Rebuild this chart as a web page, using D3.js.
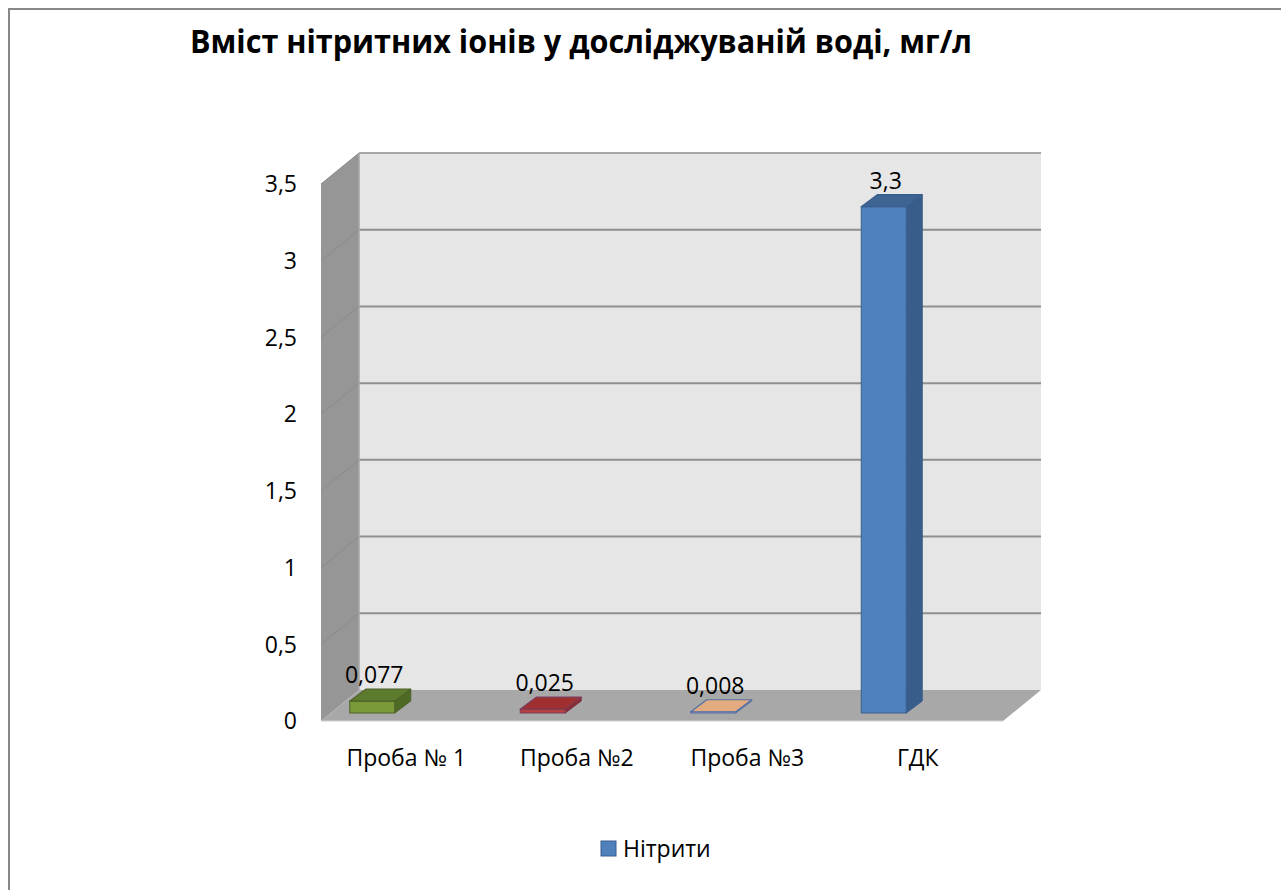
<!DOCTYPE html>
<html>
<head>
<meta charset="utf-8">
<script src="https://cdn.jsdelivr.net/npm/d3@7"></script>
<style>
  html, body { margin: 0; padding: 0; background: #fff; }
  svg { display: block; }
  text { font-family: "Open Sans", "Noto Sans", sans-serif; fill: #000; }
</style>
</head>
<body>
<svg id="chart" width="1281" height="890"></svg>
<script>
// Nitrite content per sample, mg/l
const categories = ["Проба № 1", "Проба №2", "Проба №3", "ГДК"];
const values = [0.077, 0.025, 0.008, 3.3];
const valueLabels = ["0,077", "0,025", "0,008", "3,3"];
const tickValues = [0, 0.5, 1, 1.5, 2, 2.5, 3, 3.5];
const tickLabels = ["0", "0,5", "1", "1,5", "2", "2,5", "3", "3,5"];
const seriesName = "Нітрити";
const title = "Вміст нітритних іонів у досліджуваній воді, мг/л";

const barFill = ["#7a9a3a", "#b8403e", "#f2b98c", "#4f81bd"];
const barTop = ["#5d7b2c", "#a0302f", "#e4ab80", "#3d6493"];
const barSide = ["#4f6a24", "#8a2a29", "#d59e76", "#385d8a"];
const barStroke = ["#4f6228", "#7d3a5a", "#4f6fa8", "#3a5f8c"];

const svg = d3.select("#chart");
const fontSize = 23;

// Plot box: front face of the floor and depth vector to the back wall
const front = { left: 321, right: 1003, bottom: 721, top: 184 };
const depth = { dx: 38, dy: -31 };
// Bars sit partway into the depth
const barDepth = { dx: 16, dy: -12 };
const barFrontOffset = { dx: 0, dy: -8 };
const barShift = -34;
const barWidth = 45;

const yFront = d3.scaleLinear().domain([0, 3.5]).range([front.bottom, front.top]);
const yBack = d3.scaleLinear().domain([0, 3.5]).range([front.bottom + depth.dy, front.top + depth.dy]);
const yBar = d3.scaleLinear().domain([0, 3.5])
  .range([front.bottom + barFrontOffset.dy, front.top + barFrontOffset.dy]);

const x = d3.scaleBand().domain(categories).range([front.left, front.right]).padding(0);

// Outer frame
svg.append("rect").attr("x", 9).attr("y", 9).attr("width", 1300).attr("height", 900)
  .attr("fill", "none").attr("stroke", "#888").attr("stroke-width", 2);

// Title
svg.append("text").attr("x", 581).attr("y", 53).attr("text-anchor", "middle")
  .attr("font-size", 33).attr("font-weight", "bold").attr("textLength", 782)
  .attr("lengthAdjust", "spacingAndGlyphs").text(title);

const bx0 = front.left + depth.dx, bx1 = front.right + depth.dx;

// Back wall
svg.append("rect").attr("x", bx0).attr("y", yBack(3.5))
  .attr("width", bx1 - bx0).attr("height", yBack(0) - yBack(3.5))
  .attr("fill", "#e6e6e6");

// Side wall
const line = d3.line();
svg.append("path").attr("d", line([
  [front.left, yFront(3.5)], [bx0, yBack(3.5)], [bx0, yBack(0)], [front.left, yFront(0)]
]) + "Z").attr("fill", "#969696");

// Floor
svg.append("path").attr("d", line([
  [front.left, yFront(0)], [bx0, yBack(0)], [bx1, yBack(0)], [front.right, yFront(0)]
]) + "Z").attr("fill", "#a8a8a8");

// Gridlines on back and side walls
const grid = tickValues.filter(v => v > 0);
svg.selectAll("line.gridBack").data(grid).join("line")
  .attr("x1", bx0).attr("x2", bx1)
  .attr("y1", d => yBack(d)).attr("y2", d => yBack(d))
  .attr("stroke", d => d === 3.5 ? "#a6a6a6" : "#8f8f8f").attr("stroke-width", 2);
svg.selectAll("line.gridSide").data(grid).join("line")
  .attr("x1", front.left).attr("x2", bx0)
  .attr("y1", d => yFront(d)).attr("y2", d => yBack(d))
  .attr("stroke", "#8a8a8a").attr("stroke-width", 1);

// Wall edges
svg.append("line").attr("x1", bx0).attr("x2", bx0).attr("y1", yBack(3.5)).attr("y2", yBack(0))
  .attr("stroke", "#a6a6a6").attr("stroke-width", 1.5);
svg.append("line").attr("x1", front.left).attr("x2", front.right)
  .attr("y1", yFront(0)).attr("y2", yFront(0)).attr("stroke", "#d0d0d0").attr("stroke-width", 1);

// Y axis labels
svg.selectAll("text.ytick").data(tickValues).join("text")
  .attr("x", 297).attr("y", d => yFront(d)).attr("dy", "0.36em")
  .attr("text-anchor", "end").attr("font-size", fontSize)
  .text((d, i) => tickLabels[i]);

// Category labels
svg.selectAll("text.xtick").data(categories).join("text")
  .attr("x", d => x(d) + x.bandwidth() / 2).attr("y", 766)
  .attr("text-anchor", "middle").attr("font-size", fontSize).text(d => d);

// 3D bars
const bars = categories.map((c, i) => {
  const cx = x(c) + x.bandwidth() / 2 + barShift + barFrontOffset.dx;
  return { c, i, v: values[i], x0: cx - barWidth / 2, x1: cx + barWidth / 2, yT: yBar(values[i]), yB: yBar(0) };
});
const g = svg.append("g");
bars.forEach(b => {
  const { dx, dy } = barDepth;
  // side face
  g.append("path").attr("d", line([
    [b.x1, b.yT], [b.x1 + dx, b.yT + dy], [b.x1 + dx, b.yB + dy], [b.x1, b.yB]
  ]) + "Z").attr("fill", barSide[b.i]).attr("stroke", barStroke[b.i]).attr("stroke-width", 1)
    .attr("stroke-linejoin", "round");
  // front face
  g.append("rect").attr("x", b.x0).attr("y", b.yT).attr("width", b.x1 - b.x0)
    .attr("height", Math.max(b.yB - b.yT, 0.5))
    .attr("fill", barFill[b.i]).attr("stroke", barStroke[b.i]).attr("stroke-width", 1);
  // top face
  g.append("path").attr("d", line([
    [b.x0, b.yT], [b.x0 + dx, b.yT + dy], [b.x1 + dx, b.yT + dy], [b.x1, b.yT]
  ]) + "Z").attr("fill", barTop[b.i]).attr("stroke", barStroke[b.i]).attr("stroke-width", 1.2)
    .attr("stroke-linejoin", "round");
  // value label
  g.append("text").attr("x", (b.x0 + b.x1) / 2 + 2).attr("y", b.yT + dy - 6)
    .attr("text-anchor", "middle").attr("font-size", fontSize).text(valueLabels[b.i]);
});

// Legend
svg.append("rect").attr("x", 601).attr("y", 841).attr("width", 15).attr("height", 15)
  .attr("fill", barFill[3]).attr("stroke", "#3a5f8c").attr("stroke-width", 1);
svg.append("text").attr("x", 623).attr("y", 857).attr("font-size", fontSize).text(seriesName);
</script>
</body>
</html>
